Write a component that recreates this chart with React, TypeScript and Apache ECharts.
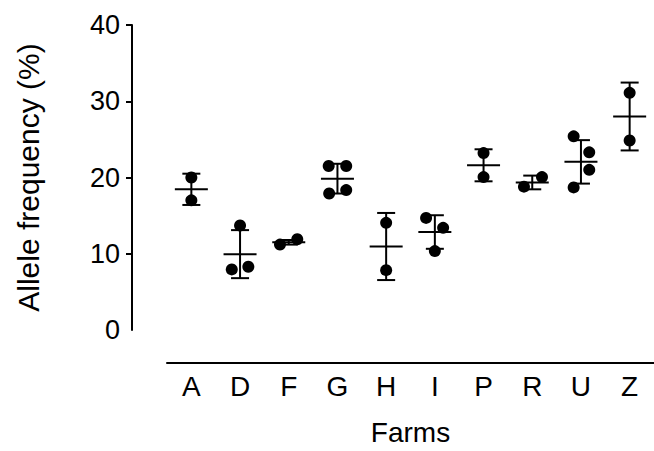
import React, { useEffect, useRef } from "react";
import * as echarts from "echarts";

const farms = ["A", "D", "F", "G", "H", "I", "P", "R", "U", "Z"];
const pointValues: number[][] = [
  [20.0, 17.0],
  [13.7, 7.95, 8.3],
  [11.2, 11.9],
  [21.5, 21.5, 17.9, 18.35],
  [14.05, 7.85],
  [14.7, 13.4, 10.35],
  [23.2, 20.05],
  [18.8, 20.05],
  [25.4, 23.3, 21.0, 18.7],
  [31.1, 24.85],
];
// horizontal scatter of the dots, in category widths
const jitter: number[][] = [
  [0, 0],
  [0, -0.17, 0.17],
  [-0.18, 0.175],
  [-0.18, 0.18, -0.17, 0.18],
  [0, 0],
  [-0.18, 0.17, 0],
  [0, 0],
  [-0.17, 0.2],
  [-0.15, 0.17, 0.17, -0.15],
  [0, 0],
];
const means = [18.45, 9.95, 11.5, 19.85, 10.95, 12.85, 21.6, 19.35, 22.05, 28.0];
const sds = [2.05, 3.15, 0.3, 1.95, 4.4, 2.2, 2.1, 0.9, 2.85, 4.45];
const yTicks = { min: 0, max: 40, interval: 10 };
const yTickMarks = [10, 20, 30, 40];

const FONT = "'Liberation Sans', Arial, Helvetica, sans-serif";

export default function App() {
  const ref = useRef<HTMLDivElement>(null);
  useEffect(() => {
    if (!ref.current) return;
    const chart = echarts.init(ref.current, undefined, { renderer: "svg" });
    const scatterData: number[][] = [];
    pointValues.forEach((vals, i) => {
      vals.forEach((v, j) => scatterData.push([i + jitter[i][j], v]));
    });
    const barData = farms.map((_, i) => [i, means[i], sds[i]]);
    const style = { stroke: "#000", lineWidth: 2, fill: "none" };
    chart.setOption({
      animation: false,
      grid: { left: 167, right: 0, top: 25, bottom: 115, containLabel: false },
      xAxis: [
        {
          type: "category",
          data: farms,
          boundaryGap: true,
          offset: 33,
          axisLine: { onZero: false, lineStyle: { color: "#000", width: 2 } },
          axisTick: { alignWithLabel: true, length: 5, lineStyle: { color: "#000", width: 2 } },
          axisLabel: { color: "#000", fontSize: 28, fontFamily: FONT, margin: 9 },
          name: "Farms",
          nameLocation: "middle",
          nameGap: 55,
          nameTextStyle: { color: "#000", fontSize: 28, fontFamily: FONT },
          splitLine: { show: false },
        },
        {
          type: "value",
          min: -0.5,
          max: 9.5,
          show: false,
          axisLine: { onZero: false },
          splitLine: { show: false },
        },
      ],
      yAxis: {
        type: "value",
        min: yTicks.min,
        max: yTicks.max,
        interval: yTicks.interval,
        offset: 35,
        axisLine: { show: true, onZero: false, lineStyle: { color: "#000", width: 2 } },
        axisTick: {
          show: true,
          length: 6,
          customValues: yTickMarks,
          lineStyle: { color: "#000", width: 2 },
        },
        axisLabel: { color: "#000", fontSize: 27, fontFamily: FONT, margin: 12 },
        splitLine: { show: false },
        name: "Allele frequency (%)",
        nameLocation: "middle",
        nameGap: 89,
        nameTextStyle: { color: "#000", fontSize: 30, fontFamily: FONT },
      },
      series: [
        {
          type: "custom",
          xAxisIndex: 1,
          z: 2,
          data: barData,
          renderItem: (params: any, api: any) => {
            const x = api.value(0);
            const m = api.value(1);
            const sd = api.value(2);
            const c = api.coord([x, m]);
            const hi = api.coord([x, m + sd]);
            const lo = api.coord([x, m - sd]);
            return {
              type: "group",
              children: [
                { type: "line", shape: { x1: c[0] - 16.5, y1: c[1], x2: c[0] + 16.5, y2: c[1] }, style },
                { type: "line", shape: { x1: c[0], y1: hi[1], x2: c[0], y2: lo[1] }, style },
                { type: "line", shape: { x1: c[0] - 9, y1: hi[1], x2: c[0] + 9, y2: hi[1] }, style },
                { type: "line", shape: { x1: c[0] - 9, y1: lo[1], x2: c[0] + 9, y2: lo[1] }, style },
              ],
            };
          },
        },
        {
          type: "scatter",
          xAxisIndex: 1,
          z: 3,
          symbol: "circle",
          symbolSize: 12,
          itemStyle: { color: "#000", opacity: 1 },
          data: scatterData,
        },
      ],
    });
    return () => chart.dispose();
  }, []);
  return (
    <div
      ref={ref}
      style={{ position: "fixed", left: 0, top: 0, width: 654, height: 451, background: "#fff" }}
    />
  );
}
